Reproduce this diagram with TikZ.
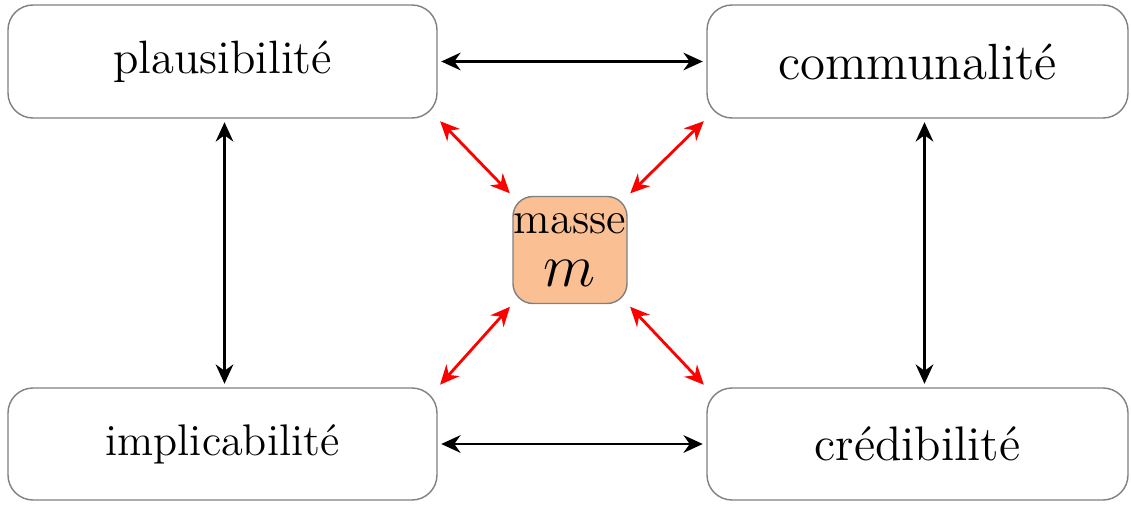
\documentclass[tikz,border=0pt]{standalone}
\usepackage{amsmath}
\usetikzlibrary{arrows.meta}
\definecolor{peche}{RGB}{250,192,148}

\begin{document}
\begin{tikzpicture}

    % Size of the boxes
    \def\boxw{4.29}
    \def\boxh{1.13}
    \def\gap{.035}
    \useasboundingbox (0,0) rectangle (11.31,-5.05);

    \tikzset{
        fonction/.style={draw=gray, rounded corners=.25cm, minimum width=\boxw cm, minimum height=\boxh cm, inner sep=0pt},
        masse/.style={draw=gray, fill=peche, rounded corners=.2cm, minimum width=1.14cm, minimum height=1.07cm, inner sep=0pt, align=center},
        lien/.style={{Stealth[length=5.5pt,width=5pt]}-{Stealth[length=5.5pt,width=5pt]}, thick, shorten >=\gap cm, shorten <=\gap cm},
        lienmasse/.style={lien, red}
    }

    % The four functions
    \node[fonction, font=\fontsize{13.3}{16}\selectfont] (plaus) at (2.225,-0.615) {plausibilité};
    \node[fonction, minimum width=4.21cm, font=\fontsize{14.5}{17}\selectfont] (comm) at (9.175,-0.615) {communalité};
    \node[fonction, minimum height=1.12cm, font=\fontsize{12.6}{15}\selectfont] (impl) at (2.225,-4.44) {implicabilité};
    \node[fonction, minimum width=4.21cm, minimum height=1.12cm, font=\fontsize{13.8}{16}\selectfont] (cred) at (9.175,-4.44) {crédibilité};

    % Mass in the middle
    \node[masse, font=\fontsize{12.75}{15}\selectfont] (m) at (5.70,-2.50) {masse\\{\LARGE $m$}};

    % Arrows between the functions
    \draw[lien] (plaus.east) -- (comm.west);
    \draw[lien] (impl.east) -- (cred.west);
    \draw[lien] ([xshift=.02cm]plaus.south) -- ([xshift=.02cm]impl.north);
    \draw[lien] ([xshift=.07cm]comm.south) -- ([xshift=.07cm]cred.north);

    % Arrows to the mass
    \draw[lienmasse] (plaus.south east) -- (m.north west);
    \draw[lienmasse] (comm.south west) -- (m.north east);
    \draw[lienmasse] (impl.north east) -- (m.south west);
    \draw[lienmasse] (cred.north west) -- (m.south east);

\end{tikzpicture}
\end{document}
